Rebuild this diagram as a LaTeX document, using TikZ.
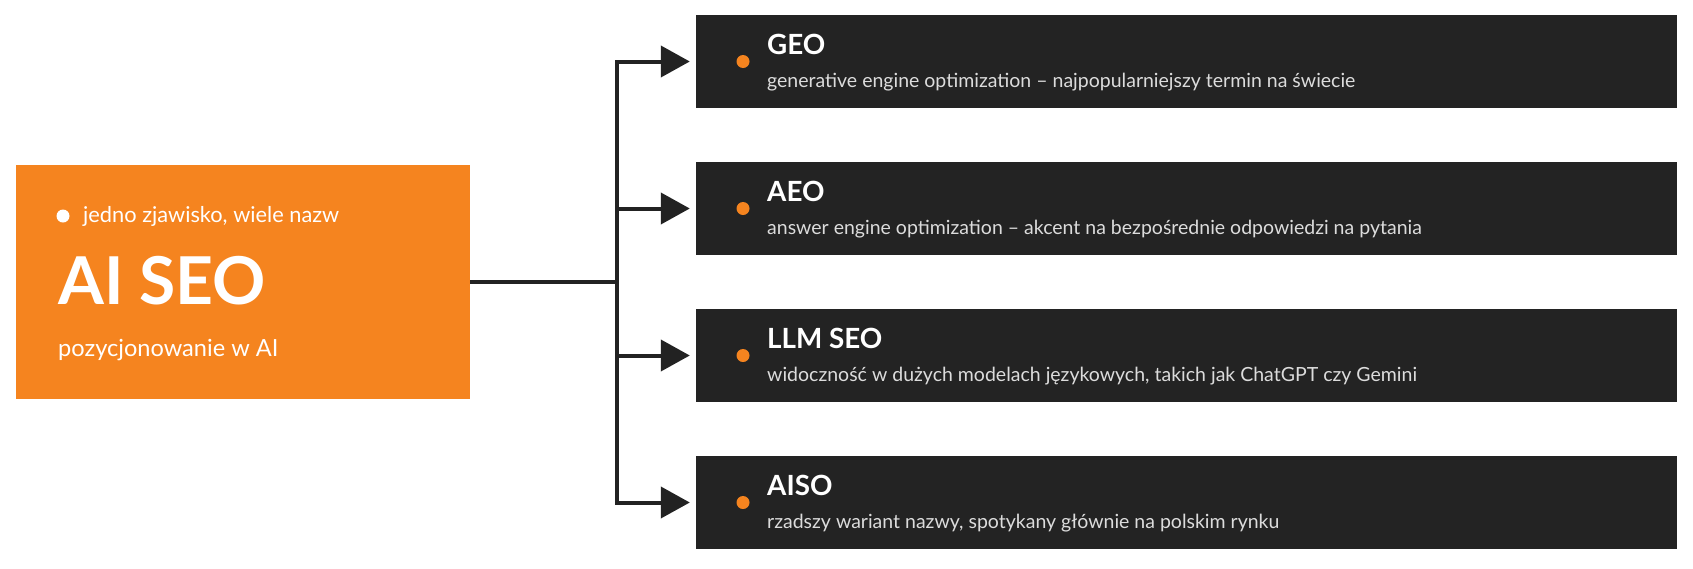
\documentclass[tikz,border=0pt]{standalone}
\usepackage{fontspec}
\setmainfont{Lato}
\usetikzlibrary{arrows.meta}
\definecolor{aiorange}{HTML}{F5841F}
\definecolor{aidark}{HTML}{232323}
\definecolor{aisub}{HTML}{DCDCDC}
\definecolor{ailine}{HTML}{222222}
\tikzset{
  orangebox/.style={fill=aiorange, draw=none, minimum width=454pt, minimum height=234pt, inner sep=0pt},
  darkbox/.style={fill=aidark, draw=none, minimum width=981pt, minimum height=93pt, inner sep=0pt},
  conn/.style={draw=ailine, line width=4pt},
  arrowconn/.style={conn, -{Triangle[length=29pt,width=31pt]}, shorten >=6pt},
  titletext/.style={anchor=base west, inner sep=0pt, text=white, font=\bfseries\fontsize{27.8}{32}\selectfont},
  subtext/.style={anchor=base west, inner sep=0pt, text=aisub, font=\fontsize{19.5}{23}\selectfont},
  orangedot/.style={circle, fill=aiorange, minimum size=13pt, inner sep=0pt},
  whitedot/.style={circle, fill=white, minimum size=13pt, inner sep=0pt},
  maintext/.style={anchor=base west, inner sep=0pt, text=white}
}
\begin{document}
\begin{tikzpicture}[x=1pt,y=-1pt]
\useasboundingbox (0,0) rectangle (1693,568);
\fill[white] (0,0) rectangle (1693,568);
% main orange box
\node[orangebox] (main) at (243,282) {};
\node[whitedot] (mdot) at (63,216) {};
\node[maintext, font=\fontsize{21.8}{26}\selectfont] (mtop) at (83,222) {jedno zjawisko, wiele nazw};
\node[maintext, font=\bfseries\fontsize{66}{70}\selectfont] (mtitle) at (58,304) {AI SEO};
\node[maintext, font=\fontsize{23.6}{28}\selectfont] (mbot) at (58,356) {pozycjonowanie w AI};
% dark boxes
\foreach \nm/\cy/\ttl/\sub in {
  geo/61.5/GEO/{generative engine optimization – najpopularniejszy termin na świecie},
  aeo/208.5/AEO/{answer engine optimization – akcent na bezpośrednie odpowiedzi na pytania},
  llm/355.5/LLM SEO/{widoczność w dużych modelach językowych, takich jak ChatGPT czy Gemini},
  aiso/502.5/AISO/{rzadszy wariant nazwy, spotykany głównie na polskim rynku}} {
  \node[darkbox] (\nm) at (1186.5,\cy) {};
  \node[orangedot] (\nm dot) at (743,\cy) {};
  \node[titletext] (\nm title) at (767,\cy-7.5) {\ttl};
  \node[subtext] (\nm sub) at (767,\cy+25.5) {\sub};
}
% connectors
\coordinate (j) at (617,282);
\draw[conn] (main.east) -- (j);
\draw[arrowconn] (j) |- (geo.west);
\draw[arrowconn] (j) |- (aeo.west);
\draw[arrowconn] (j) |- (llm.west);
\draw[arrowconn] (j) |- (aiso.west);
\end{tikzpicture}
\end{document}
